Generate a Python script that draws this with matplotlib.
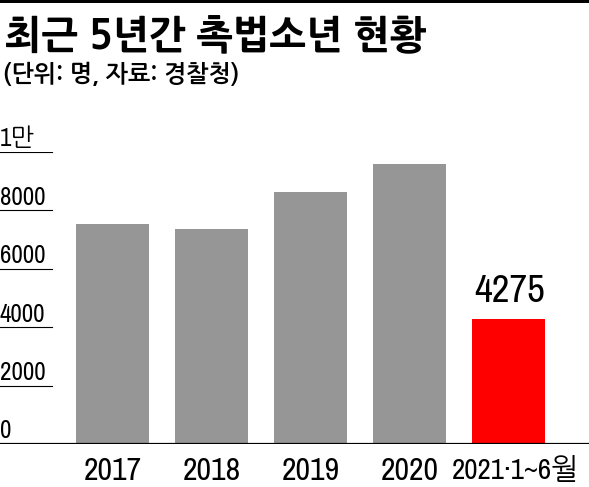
import numpy as np
import matplotlib.pyplot as plt
from matplotlib.patches import Rectangle

years = ['2017', '2018', '2019', '2020', '2021·1~6월']
counts = [7533, 7364, 8615, 9606, 4275]
bar_colors = ['#969696', '#969696', '#969696', '#969696', '#ff0000']
ytick_vals = [0, 2000, 4000, 6000, 8000, 10000]
ytick_labels = ['0', '2000', '4000', '6000', '8000', '1만']

narrow = ['Archivo Narrow', 'NanumGothic', 'Noto Sans CJK KR', 'DejaVu Sans']
kr = ['NanumGothic', 'Noto Sans CJK KR', 'DejaVu Sans']

W, H = 589, 487
fig = plt.figure(figsize=(W / 100, H / 100), dpi=100)

# axes: full width, baseline at y=444px, 1만 at y=152px
ax = fig.add_axes([0, (H - 444) / H, 1, (444 - 152) / H])
ax.set_ylim(0, 10000)
step = 99
ax.set_xlim(-112.5 / step, (W - 112.5) / step)

x = np.arange(len(years))
ax.bar(x, counts, width=73 / step, color=bar_colors, zorder=2)

for s in ax.spines.values():
    s.set_visible(False)
ax.set_yticks([])
ax.set_xticks([])

# y labels with short lines underneath
for v, lab in zip(ytick_vals, ytick_labels):
    if v > 0:
        ax.axhline(v, xmin=0, xmax=52 / W, color='black', lw=0.8, zorder=1)
    ax.annotate(lab, xy=(0, v), xycoords=('axes fraction', 'data'),
                xytext=(0, 4), textcoords='offset points',
                ha='left', va='baseline', fontsize=18, family=narrow)

ax.axhline(0, color='black', lw=1.6, zorder=3)

# x labels (last one a bit smaller and nudged right, as in the original)
for xi, lab in zip(x, years):
    last = xi == x[-1]
    ax.annotate(lab, xy=(xi, 0), xycoords='data',
                xytext=(5 if last else 0, -9), textcoords='offset points',
                ha='center', va='top', fontsize=21 if last else 23,
                family=narrow)

# value label on last bar
ax.annotate(f'{counts[-1]}', xy=(x[-1], counts[-1]), xycoords='data',
            xytext=(1, 7), textcoords='offset points',
            ha='center', va='bottom', fontsize=28, family=narrow)

# top rule
fig.add_artist(Rectangle((0, 1 - 3 / H), 1, 3 / H, transform=fig.transFigure,
                         color='black', lw=0))

fig.text(5 / W, 1 - 15 / H, '최근 5년간 촉법소년 현황', ha='left', va='top',
         fontsize=28, fontweight='heavy', family=kr)
fig.text(3 / W, 1 - 62 / H, '(단위: 명, 자료: 경찰청)', ha='left', va='top',
         fontsize=17, fontweight='bold', family=kr)

fig.savefig('out.png', dpi=100)
